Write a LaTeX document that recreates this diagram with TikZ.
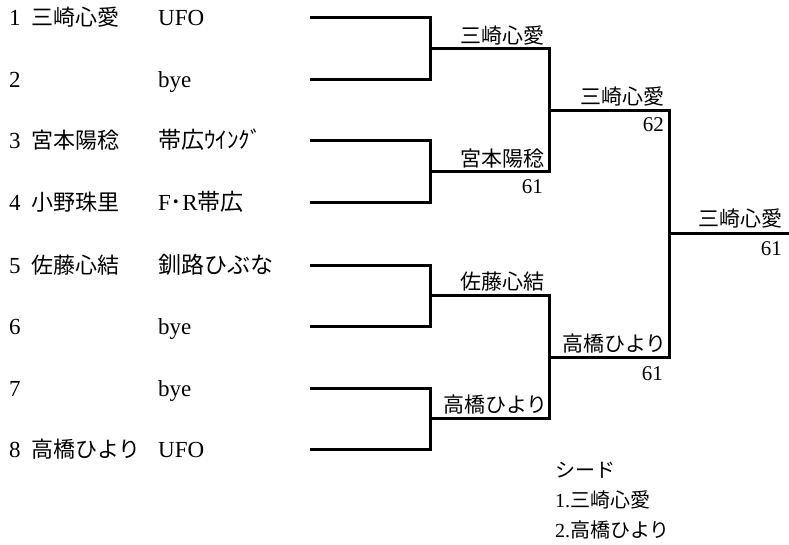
\documentclass[tikz,border=0pt]{standalone}
\usepackage{fontspec}
\setmainfont{Liberation Serif}
\newfontfamily\jp{Noto Sans CJK JP}
\tikzset{
  rowtext/.style={anchor=base west, inner sep=0pt, font=\fontsize{23}{27}\selectfont},
  wintext/.style={anchor=south east, inner sep=0pt, font=\jp\fontsize{21}{25}\selectfont},
  scoretext/.style={anchor=north east, inner sep=0pt, font=\fontsize{21}{25}\selectfont},
  seedtext/.style={anchor=base west, inner sep=0pt, font=\fontsize{20}{24}\selectfont},
  bline/.style={line width=3pt, line join=miter}
}
\begin{document}
\begin{tikzpicture}[x=1pt,y=-1pt]
  \useasboundingbox (0,0) rectangle (789,545);
  \foreach \i/\y/\name/\club in {1/18/三崎心愛/UFO,2/80//bye,3/141/宮本陽稔/{\jp 帯広ｳｲﾝｸﾞ},
      4/203/小野珠里/F{\jp ･}R{\jp 帯広},5/265/佐藤心結/{\jp 釧路ひぶな},6/326//bye,
      7/388//bye,8/449/高橋ひより/UFO} {
    \node[rowtext] (num\i) at (9,\y+8) {\i};
    \node[rowtext, font=\jp\fontsize{22}{26}\selectfont] (name\i) at (31,\y+8) {\name};
    \node[rowtext] (club\i) at (158,\y+8) {\club};
    \coordinate (l\i) at (310,\y);
  }
  \coordinate (m1) at (430,49);
  \coordinate (m2) at (430,172);
  \coordinate (m3) at (430,295.5);
  \coordinate (m4) at (430,418.5);
  \coordinate (n1) at (549,110.5);
  \coordinate (n2) at (549,357);
  \coordinate (f) at (669,233.75);
  \coordinate (c) at (789,233.75);
  \foreach \a/\b/\m in {1/2/1,3/4/2,5/6/3,7/8/4}
    \draw[bline] (l\a) -| (m\m) |- (l\b);
  \draw[bline] (m1) -| (n1) |- (m2);
  \draw[bline] (m3) -| (n2) |- (m4);
  \draw[bline] (n1) -| (f) |- (n2);
  \draw[bline] (f) -- (c);
  \node[wintext] (win1) at ([shift={(-4pt,4pt)}]m1 -| n1) {三崎心愛};
  \node[wintext] (win2) at ([shift={(-4pt,4pt)}]m2 -| n1) {宮本陽稔};
  \node[scoretext] (score2) at ([shift={(-6pt,-7pt)}]m2 -| n1) {61};
  \node[wintext] (win3) at ([shift={(-4pt,4pt)}]m3 -| n2) {佐藤心結};
  \node[wintext] (win4) at ([shift={(-1pt,4pt)}]m4 -| n2) {高橋ひより};
  \node[wintext] (win5) at ([shift={(-4pt,4pt)}]n1 -| f) {三崎心愛};
  \node[scoretext] (score5) at ([shift={(-5pt,-7pt)}]n1 -| f) {62};
  \node[wintext] (win6) at ([shift={(-2pt,4pt)}]n2 -| f) {高橋ひより};
  \node[scoretext] (score6) at ([shift={(-6pt,-9pt)}]n2 -| f) {61};
  \node[wintext] (win7) at ([shift={(-6pt,5pt)}]c) {三崎心愛};
  \node[scoretext] (score7) at ([shift={(-7pt,-8pt)}]c) {61};
  \node[seedtext, font=\jp\fontsize{20}{24}\selectfont] (seed) at (555,477) {シード};
  \node[seedtext] (seed1) at (555,507) {1.{\jp 三崎心愛}};
  \node[seedtext] (seed2) at (555,537) {2.{\jp 高橋ひより}};
\end{tikzpicture}
\end{document}
